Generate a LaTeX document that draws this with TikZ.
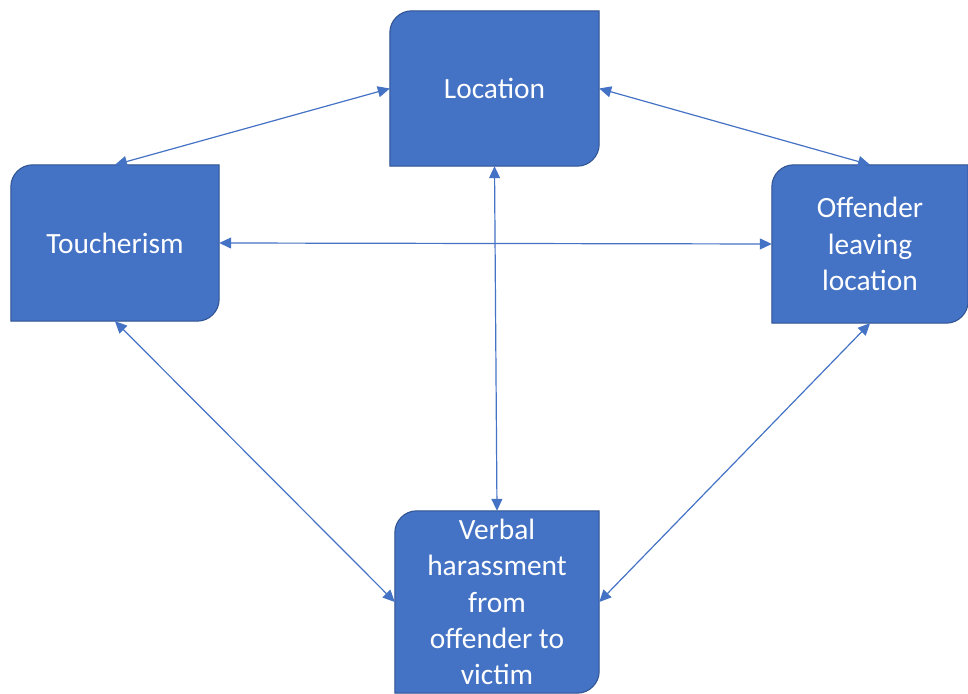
\documentclass[tikz,border=0pt]{standalone}
\usepackage{fontspec}
\setmainfont{Carlito}
\usetikzlibrary{arrows.meta,backgrounds}
\definecolor{boxfill}{HTML}{4472C4}
\definecolor{boxline}{HTML}{2F528F}
\tikzset{
  box/.style={draw=none, inner sep=0pt, align=center, text=white,
    font=\fontsize{29.4}{36.2}\selectfont},
  boxshape/.style={fill=boxfill, draw=boxline, line width=1pt},
  link/.style={draw=boxfill, line width=1.2pt,
    {Triangle[length=12pt,width=11pt]}-{Triangle[length=12pt,width=11pt]}}
}
\newcommand{\diagbox}[1]{%
  \begin{scope}[on background layer]
  \path[boxshape] (#1.south west) -- ([yshift=-22pt]#1.north west)
    arc[start angle=180, end angle=90, radius=22pt] -- (#1.north east)
    -- ([yshift=22pt]#1.south east)
    arc[start angle=0, end angle=-90, radius=22pt] -- cycle;
  \end{scope}}
\begin{document}
\begin{tikzpicture}[x=1pt,y=1pt]
\useasboundingbox (0,0) rectangle (968,693);
\node[box, minimum width=209pt, minimum height=155pt] (loc) at (494.5,604.5) {Location};
\node[box, minimum width=208pt, minimum height=156pt] (tou) at (115,450) {Toucherism};
\node[box, minimum width=196pt, minimum height=158pt] (off) at (870,449) {Offender\\leaving\\location};
\node[box, minimum width=204pt, minimum height=182pt] (ver) at (497,91) {Verbal\\harassment\\from\\offender to\\victim};
\diagbox{loc}
\diagbox{tou}
\diagbox{off}
\diagbox{ver}
\draw[link] (loc.west) -- (tou.north);
\draw[link] (loc.east) -- (off.north);
\draw[link] (tou.east) -- (off.west);
\draw[link] (loc.south) -- (ver.north);
\draw[link] (tou.south) -- (ver.west);
\draw[link] (off.south) -- (ver.east);
\end{tikzpicture}
\end{document}
